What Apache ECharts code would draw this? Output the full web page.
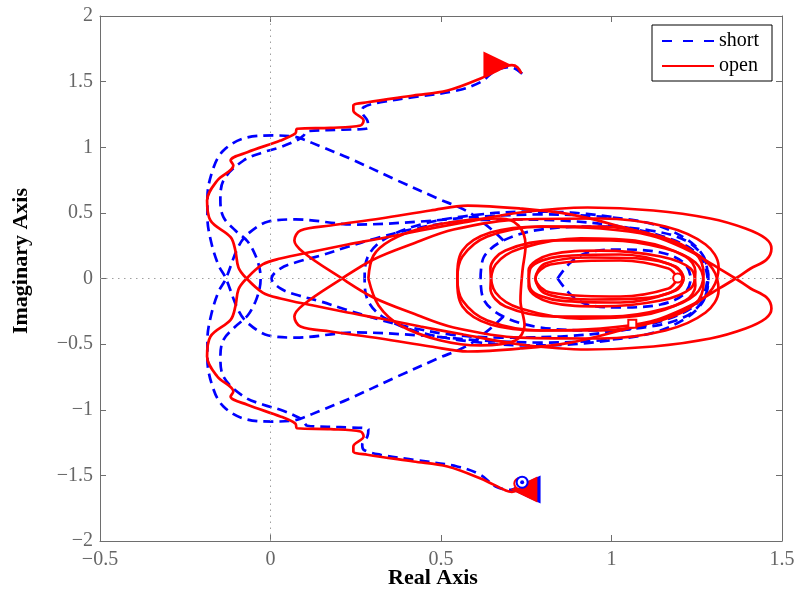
<!DOCTYPE html>
<html>
<head>
<meta charset="utf-8">
<script src="https://cdn.jsdelivr.net/npm/echarts@6/dist/echarts.min.js"></script>
<style>
  html, body { margin: 0; padding: 0; background: #fff; }
  #chart { width: 800px; height: 598px; }
</style>
</head>
<body>
<div id="chart"></div>
<script>
// Tick positions of the complex plane
const realTicks = [-0.5, 0, 0.5, 1, 1.5];
const imagTicks = [-2, -1.5, -1, -0.5, 0, 0.5, 1, 1.5, 2];

// "open" termination: positive-frequency branch [Re, Im]
const openBranchPos = [
  [0.736,1.562],[0.724,1.610],[0.708,1.625],[0.690,1.615],[0.616,1.524],[0.519,1.432],[0.419,1.394],[0.284,1.343],[0.243,1.318],[0.243,1.280],[0.273,1.204],[0.264,1.166],[0.176,1.148],[0.078,1.141],[0.073,1.105],[0.029,1.051],[-0.068,0.962],[-0.117,0.899],[-0.109,0.861],[-0.156,0.747],[-0.186,0.594],[-0.176,0.442],[-0.117,0.315],[-0.103,0.213],[-0.094,0.084],[-0.073,0.008],
  [-0.023,-0.107],[0.029,-0.152],[0.126,-0.206],[0.226,-0.259],[0.323,-0.305],[0.440,-0.366],[0.566,-0.427],[0.733,-0.503],[0.930,-0.541],[1.123,-0.518],[1.290,-0.457],[1.393,-0.381],[1.452,-0.305],[1.469,-0.229],[1.455,-0.145],[1.408,-0.076],[1.364,0],[1.296,0.107],[1.232,0.206],[1.144,0.305],[1.026,0.396],[0.880,0.488],[0.733,0.533],[0.578,0.556],[0.469,0.518],[0.323,0.457],[0.176,0.404],[0.088,0.366],[0.070,0.290],[0.097,0.198],[0.205,0.008],[0.302,-0.145],[0.419,-0.267],[0.537,-0.373],[0.733,-0.450],
  [0.968,-0.457],[1.158,-0.396],[1.276,-0.259],[1.314,-0.091],[1.296,0.076],[1.232,0.213],[1.114,0.328],[0.968,0.381],[0.792,0.396],[0.645,0.350],[0.563,0.213],[0.548,0],[0.563,-0.168],[0.636,-0.320],[0.792,-0.396],
  [0.968,-0.396],[1.144,-0.320],[1.246,-0.190],[1.270,-0.030],[1.246,0.122],[1.158,0.229],[0.997,0.290],[0.836,0.290],[0.689,0.213],[0.645,0.076],[0.660,-0.107],[0.733,-0.229],[0.909,-0.305],[1.085,-0.282],[1.217,-0.168],[1.246,-0.053],
  [1.232,0.076],[1.144,0.168],[0.968,0.213],[0.821,0.183],[0.757,0.061],[0.762,-0.076],[0.850,-0.168],[1.026,-0.183],[1.173,-0.107],[1.211,0],[1.188,0.091],[1.085,0.152],[0.938,0.160],[0.806,0.114],[0.777,0],[0.821,-0.107],[1.026,-0.137],[1.167,-0.076],[1.194,0]
];

// "open" termination: negative-frequency branch
const openBranchNeg = [
  [0.736,-1.562],[0.724,-1.610],[0.708,-1.625],[0.690,-1.615],[0.616,-1.524],[0.519,-1.432],[0.419,-1.394],[0.284,-1.343],[0.243,-1.318],[0.243,-1.280],[0.273,-1.204],[0.264,-1.166],[0.176,-1.148],[0.078,-1.141],[0.073,-1.105],[0.029,-1.051],[-0.068,-0.962],[-0.117,-0.899],[-0.109,-0.861],[-0.156,-0.747],[-0.186,-0.594],[-0.176,-0.442],[-0.117,-0.315],[-0.103,-0.213],[-0.094,-0.084],[-0.073,-0.008],
  [-0.023,0.107],[0.029,0.152],[0.126,0.206],[0.226,0.259],[0.323,0.305],[0.440,0.366],[0.566,0.427],[0.733,0.503],[0.930,0.541],[1.123,0.518],[1.290,0.457],[1.393,0.381],[1.452,0.305],[1.469,0.229],[1.455,0.145],[1.408,0.076],[1.364,0],[1.296,-0.107],[1.232,-0.206],[1.144,-0.305],[1.026,-0.396],[0.880,-0.488],[0.733,-0.533],[0.578,-0.556],[0.469,-0.518],[0.323,-0.457],[0.176,-0.404],[0.088,-0.366],[0.070,-0.290],[0.097,-0.198],[0.205,-0.008],[0.302,0.145],[0.419,0.267],[0.537,0.373],[0.733,0.450],
  [0.968,0.457],[1.158,0.396],[1.276,0.259],[1.314,0.091],[1.296,-0.076],[1.232,-0.213],[1.114,-0.328],[0.968,-0.381],[0.792,-0.396],[0.645,-0.350],[0.563,-0.213],[0.548,0],[0.563,0.168],[0.636,0.320],[0.792,0.396],
  [0.968,0.396],[1.144,0.320],[1.246,0.190],[1.270,0.030],[1.246,-0.122],[1.158,-0.229],[0.997,-0.290],[0.836,-0.290],[0.689,-0.213],[0.645,-0.076],[0.660,0.107],[0.733,0.229],[0.909,0.305],[1.085,0.282],[1.217,0.168],[1.246,0.053],
  [1.232,-0.076],[1.144,-0.168],[0.968,-0.213],[0.821,-0.183],[0.757,-0.061],[0.762,0.076],[0.850,0.168],[1.026,0.183],[1.173,0.107],[1.211,0],[1.188,-0.091],[1.085,-0.152],[0.938,-0.160],[0.806,-0.114],[0.777,0],[0.821,0.107],[1.026,0.137],[1.167,0.076],[1.194,0]
];

// "open" termination: wide loop on the left of the resonance cluster
const openLoop = [
  [0.287,0],[0.302,0.175],[0.352,0.290],[0.440,0.381],[0.566,0.442],[0.674,0.457],[0.727,0.404],[0.748,0.251],[0.739,0.061],[0.733,-0.168],[0.745,-0.358],[0.718,-0.472],[0.616,-0.510],[0.499,-0.472],[0.381,-0.358],[0.317,-0.206],[0.287,0]
];

// "short" termination: outer low-frequency sweep (both ends)
const shortSweep = [
  [0.738,1.560],[0.704,1.610],[0.660,1.585],[0.616,1.496],[0.547,1.432],[0.419,1.381],[0.323,1.343],[0.273,1.305],[0.269,1.267],[0.284,1.204],[0.287,1.148],[0.205,1.133],[0.108,1.122],[0.097,1.090],[0.082,1.059],[0.029,1.000],[-0.021,0.962],[-0.079,0.899],[-0.138,0.747],[-0.147,0.594],[-0.138,0.467],[-0.103,0.366],[-0.067,0.282],[-0.044,0.175],[-0.032,0.076],[-0.029,0],
  [-0.032,-0.076],[-0.044,-0.175],[-0.067,-0.282],[-0.103,-0.366],[-0.138,-0.467],[-0.147,-0.594],[-0.138,-0.747],[-0.079,-0.899],[-0.021,-0.962],[0.029,-1.000],[0.082,-1.059],[0.097,-1.090],[0.108,-1.122],[0.205,-1.133],[0.287,-1.148],[0.284,-1.204],[0.269,-1.267],[0.273,-1.305],[0.323,-1.343],[0.419,-1.381],[0.547,-1.432],[0.616,-1.496],[0.660,-1.585],[0.704,-1.610],[0.738,-1.560]
];

// "short" termination: diagonal + outer left arc, positive frequencies
const shortArcPos = [
  [0.683,0.290],[0.645,0.381],[0.578,0.510],[0.490,0.610],[0.372,0.747],[0.226,0.922],[0.147,1.006],[0.097,1.059],[0.067,1.082],[0.009,1.090],[-0.079,1.067],[-0.138,0.975],[-0.167,0.846],[-0.185,0.617],[-0.185,0.465],[-0.173,0.267],[-0.152,0.099],[-0.132,0.008],[-0.094,-0.244],[-0.065,-0.343],[-0.006,-0.434],[0.073,-0.450],[0.249,-0.411],[0.440,-0.434],[0.616,-0.472],[0.792,-0.488],[0.968,-0.472],[1.114,-0.419],[1.217,-0.305],[1.270,-0.168],[1.284,0]
];

// "short" termination: diagonal + outer left arc, negative frequencies
const shortArcNeg = [
  [0.683,-0.290],[0.645,-0.381],[0.578,-0.510],[0.490,-0.610],[0.372,-0.747],[0.226,-0.922],[0.147,-1.006],[0.097,-1.059],[0.067,-1.082],[0.009,-1.090],[-0.079,-1.067],[-0.138,-0.975],[-0.167,-0.846],[-0.185,-0.617],[-0.185,-0.465],[-0.173,-0.267],[-0.152,-0.099],[-0.132,-0.008],[-0.094,0.244],[-0.065,0.343],[-0.006,0.434],[0.073,0.450],[0.249,0.411],[0.440,0.434],[0.616,0.472],[0.792,0.488],[0.968,0.472],[1.114,0.419],[1.217,0.305],[1.270,0.168],[1.284,0]
];

// "short" termination: wedge starting near the origin
const shortWedge = [
  [1.282,0],[1.270,0.122],[1.232,0.229],[1.152,0.320],[1.026,0.396],[0.850,0.442],[0.674,0.450],[0.528,0.427],[0.411,0.373],[0.308,0.305],[0.220,0.236],[0.147,0.175],[0.073,0.122],[0.029,0.076],[0.003,0],
  [0.029,-0.076],[0.073,-0.122],[0.147,-0.175],[0.220,-0.236],[0.308,-0.305],[0.411,-0.373],[0.528,-0.427],[0.674,-0.450],[0.850,-0.442],[1.026,-0.396],[1.152,-0.320],[1.232,-0.229],[1.270,-0.122],[1.282,0]
];

// "short" termination: loops of the resonance cluster
const shortLoopWide = [
  [1.000,0.470],[0.880,0.503],[0.762,0.510],[0.587,0.480],[0.440,0.411],[0.337,0.305],[0.287,0.175],[0.276,0],[0.287,-0.175],[0.337,-0.305],[0.440,-0.411],[0.587,-0.480],[0.762,-0.510],[0.880,-0.503],[1.000,-0.470]
];
const shortLoopMid = [
  [0.616,0],[0.625,0.160],[0.683,0.290],[0.792,0.373],[0.968,0.396],[1.114,0.366],[1.217,0.290],[1.270,0.160],[1.284,0],[1.270,-0.160],[1.217,-0.290],[1.114,-0.366],[0.968,-0.396],[0.792,-0.373],[0.683,-0.290],[0.625,-0.160],[0.616,0]
];
const shortLoopInner = [
  [0.842,0],[0.880,0.122],[0.930,0.198],[1.026,0.221],[1.144,0.198],[1.211,0.122],[1.232,0],[1.211,-0.122],[1.144,-0.198],[1.026,-0.221],[0.930,-0.198],[0.880,-0.122],[0.842,0]
];

// Direction arrows [Re, Im, rotation] and frequency markers
const openArrows = [[0.664, 1.630, -90], [0.743, -1.608, 90]];
const shortArrows = [[0.748, -1.608, 90]];
const shortStart = [[0.738, -1.552]];
const openStart = [[0.731, -1.562]];
const openSquare = [[1.061, -0.345]];
const openCircle = [[1.194, 0.003]];

const BLUE = '#0000ff';
const RED = '#ff0000';
const SERIF = '"Liberation Serif", "Times New Roman", serif';

const fmt = v => (v < 0 ? '\u2212' + String(Math.abs(v)) : String(v));

function strand(name, data, color, dashed) {
  return {
    name: name,
    type: 'line',
    data: data,
    smooth: 0.35,
    symbol: 'none',
    silent: true,
    lineStyle: { color: color, width: 2.7, type: dashed ? [10, 6] : 'solid' },
    itemStyle: { color: color }
  };
}

const series = [];
const blueStrands = [shortSweep, shortArcPos, shortArcNeg, shortWedge, shortLoopWide, shortLoopMid, shortLoopInner];
blueStrands.forEach(d => series.push(strand('short', d, BLUE, true)));
const redStrands = [openBranchPos, openBranchNeg, openLoop];
redStrands.forEach(d => series.push(strand('open', d, RED, false)));

// dotted lines through the origin
series[0].markLine = {
  silent: true,
  symbol: ['none', 'none'],
  label: { show: false },
  lineStyle: { color: '#a0a0a0', width: 1, type: [1.5, 4.5] },
  data: [{ xAxis: 0 }, { yAxis: 0 }]
};

function markers(name, data, symbol, size, color, z, filled) {
  return {
    name: name, type: 'scatter', symbol: symbol, symbolSize: size, data: data, silent: true, z: z,
    itemStyle: filled ? { color: color, opacity: 1 } : { color: color, borderColor: color, borderWidth: 2.2, opacity: 1 }
  };
}

series.push(markers('shortArrow', shortArrows.map(p => ({ value: [p[0], p[1]], symbolRotate: p[2] })), 'triangle', [28, 30], BLUE, 5, true));
series.push(markers('openArrow', openArrows.map(p => ({ value: [p[0], p[1]], symbolRotate: p[2] })), 'triangle', [26, 27], RED, 6, true));
series.push(markers('openStart', openStart, 'emptyCircle', 11, RED, 7, false));
series.push(markers('shortStart', shortStart, 'emptyCircle', 11, BLUE, 8, false));
series.push(markers('shortStartDot', shortStart, 'circle', 4, BLUE, 8, true));
series.push(markers('openSquare', openSquare, 'emptyRect', 8, RED, 7, false));
series.push(markers('openCircle', openCircle, 'emptyCircle', 9, RED, 7, false));

const axisCommon = {
  type: 'value',
  axisLine: { onZero: false, lineStyle: { color: '#6e6e6e', width: 1 } },
  axisTick: { inside: true, length: 6, lineStyle: { color: '#6e6e6e' } },
  splitLine: { show: false }
};

const chart = echarts.init(document.getElementById('chart'), null, { renderer: 'canvas' });
chart.setOption({
  animation: false,
  backgroundColor: '#ffffff',
  grid: { left: 100, right: 18, top: 16, bottom: 57 },
  xAxis: [
    Object.assign({}, axisCommon, {
      position: 'bottom', min: realTicks[0], max: realTicks[realTicks.length - 1], interval: 0.5,
      axisLabel: { color: '#666', fontFamily: SERIF, fontSize: 20, margin: 9, formatter: fmt }
    }),
    Object.assign({}, axisCommon, {
      position: 'top', min: realTicks[0], max: realTicks[realTicks.length - 1], interval: 0.5,
      axisLabel: { show: false }
    })
  ],
  yAxis: [
    Object.assign({}, axisCommon, {
      position: 'left', min: imagTicks[0], max: imagTicks[imagTicks.length - 1], interval: 0.5,
      axisLabel: { color: '#666', fontFamily: SERIF, fontSize: 20, margin: 7, formatter: fmt }
    }),
    Object.assign({}, axisCommon, {
      position: 'right', min: imagTicks[0], max: imagTicks[imagTicks.length - 1], interval: 0.5,
      axisLabel: { show: false }
    })
  ],
  legend: {
    data: [
      { name: 'short', icon: 'path://M0,0h10v2h-10z M21,0h10v2h-10z M42,0h10v2h-10z' },
      { name: 'open', icon: 'path://M0,0h52v2h-52z' }
    ],
    orient: 'vertical',
    left: 652, top: 25,
    padding: [6, 13, 5, 10],
    itemGap: 5,
    itemWidth: 52, itemHeight: 2,
    borderColor: '#000', borderWidth: 1, borderRadius: 0,
    backgroundColor: '#fff',
    selectedMode: false,
    textStyle: { fontFamily: SERIF, fontSize: 20, color: '#000', lineHeight: 20, padding: [0, 0, 0, 0] }
  },
  graphic: [
    {
      type: 'text', x: 433, y: 578, silent: true,
      style: { text: 'Real Axis', font: 'bold 22px ' + SERIF, fill: '#000', textAlign: 'center', textVerticalAlign: 'middle', verticalAlign: 'middle' }
    },
    {
      type: 'text', x: 21, y: 261, rotation: Math.PI / 2, silent: true,
      style: { text: 'Imaginary Axis', font: 'bold 22px ' + SERIF, fill: '#000', textAlign: 'center', textVerticalAlign: 'middle', verticalAlign: 'middle' }
    }
  ],
  series: series
});
</script>
</body>
</html>
